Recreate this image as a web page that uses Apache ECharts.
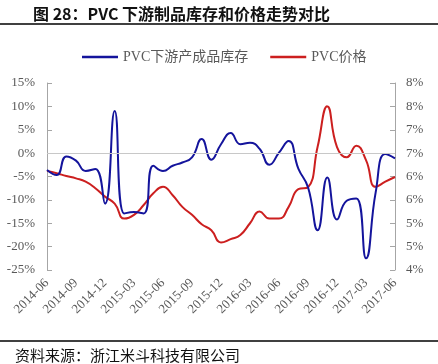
<!DOCTYPE html>
<html>
<head>
<meta charset="utf-8">
<script src="https://cdn.jsdelivr.net/npm/echarts@6/dist/echarts.min.js"></script>
<style>
html,body{margin:0;padding:0;background:#fff;}
#chart{width:438px;height:364px;}
</style>
</head>
<body>
<div id="chart"></div>
<script>
const categories = ['2014-06','2014-07','2014-08','2014-09','2014-10','2014-11','2014-12','2015-01','2015-02','2015-03','2015-04','2015-05','2015-06','2015-07','2015-08','2015-09','2015-10','2015-11','2015-12','2016-01','2016-02','2016-03','2016-04','2016-05','2016-06','2016-07','2016-08','2016-09','2016-10','2016-11','2016-12','2017-01','2017-02','2017-03','2017-04','2017-05','2017-06'];
const inventory = [-3.6,-4.7,-0.7,-1.6,-3.8,-3.4,-10.8,9.0,-12.9,-12.6,-12.9,-2.7,-3.8,-2.7,-2.0,-0.9,3.0,-1.4,1.9,4.3,1.9,2.2,0.9,-2.5,0.1,2.6,-3.3,-7.3,-16.5,-5.2,-14.2,-10.2,-9.7,-22.5,-8.4,-0.2,-1.1];
const price = [6.12,6.07,6.01,5.96,5.89,5.75,5.57,5.42,5.10,5.18,5.39,5.64,5.78,5.60,5.35,5.18,4.98,4.85,4.59,4.66,4.75,5.00,5.25,5.10,5.10,5.35,5.73,5.77,6.64,7.50,6.63,6.41,6.66,6.35,5.78,5.89,5.99];
const seriesNames = ['PVC下游产成品库存','PVC价格'];
const titleText = '图 28：PVC 下游制品库存和价格走势对比';
const sourceText = '资料来源：浙江米斗科技有限公司';

const chart = echarts.init(document.getElementById('chart'));
const labelFont = '"Liberation Serif","Noto Sans CJK SC",serif';
chart.setOption({
  backgroundColor: '#fff',
  animation: false,
  graphic: [
    {type:'text', left:33, top:6, style:{text:titleText, font:'bold 16px "Noto Sans CJK SC"', fill:'#111'}},
    {type:'line', shape:{x1:0,y1:24,x2:438,y2:24}, style:{stroke:'#000', lineWidth:1.5}},
    {type:'line', shape:{x1:0,y1:341,x2:438,y2:341}, style:{stroke:'#000', lineWidth:1.5}},
    {type:'text', left:15, top:348, style:{text:sourceText, font:'15px "Noto Sans CJK SC"', fill:'#111'}}
  ],
  legend: {
    left: 77, top: 45,
    itemWidth: 36, itemHeight: 2.5, itemGap: 22,
    icon: 'rect',
    textStyle: {fontFamily: labelFont, fontSize: 14, color: '#595959'},
    data: seriesNames
  },
  grid: {left: 47, right: 43, top: 83, bottom: 94},
  xAxis: {
    type: 'category',
    data: categories,
    boundaryGap: false,
    axisLine: {show: false},
    axisTick: {show: false},
    axisLabel: {interval: 2, rotate: 45, margin: 11, fontFamily: labelFont, fontSize: 13, color: '#595959'}
  },
  yAxis: [
    {
      type: 'value', min: -25, max: 15, interval: 5,
      axisLine: {show: true, lineStyle: {color: '#a6a6a6'}},
      axisTick: {show: true, inside: true, length: 5, lineStyle: {color: '#a6a6a6'}},
      splitLine: {show: false},
      axisLabel: {margin: 12, fontFamily: labelFont, fontSize: 13, color: '#595959', formatter: v => v + '%'}
    },
    {
      type: 'value', min: 4, max: 8, interval: 0.5, position: 'right',
      axisLine: {show: true, lineStyle: {color: '#a6a6a6'}},
      axisTick: {show: true, inside: true, length: 5, lineStyle: {color: '#a6a6a6'}},
      splitLine: {show: false},
      axisLabel: {margin: 11, fontFamily: labelFont, fontSize: 13, color: '#595959', formatter: v => Math.round(v) + '%'}
    }
  ],
  series: [
    {
      name: seriesNames[0], type: 'line', yAxisIndex: 0, data: inventory,
      smooth: 0.5, showSymbol: false, symbol: 'none',
      lineStyle: {color: '#14149c', width: 2}, itemStyle: {color: '#14149c'},
      markLine: {
        silent: true, symbol: 'none', label: {show: false},
        lineStyle: {color: '#c8c8c8', width: 1, type: 'solid'},
        data: [{yAxis: 0}]
      },
      z: 3
    },
    {
      name: seriesNames[1], type: 'line', yAxisIndex: 1, data: price,
      smooth: 0.5, showSymbol: false, symbol: 'none',
      lineStyle: {color: '#cc1f1f', width: 2}, itemStyle: {color: '#cc1f1f'},
      z: 2
    }
  ]
});
</script>
</body>
</html>
